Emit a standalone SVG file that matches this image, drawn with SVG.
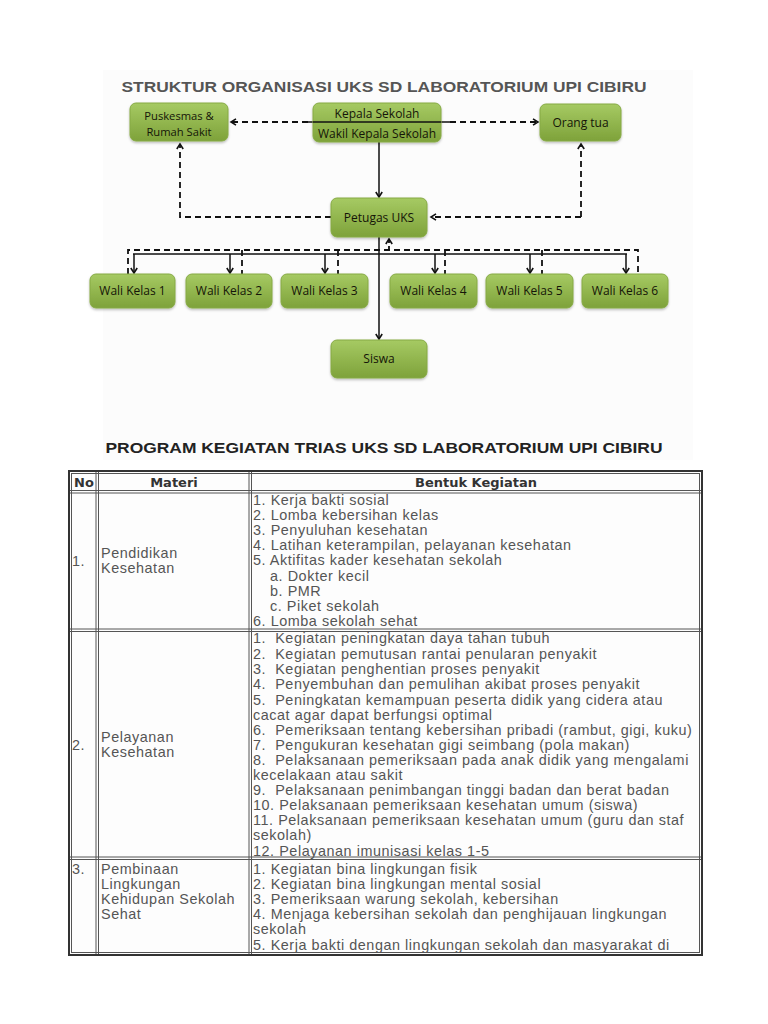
<svg xmlns="http://www.w3.org/2000/svg" width="768" height="1024" viewBox="0 0 768 1024">
<style>
.node rect{fill:url(#g);stroke:#86aa45;stroke-width:1}
.nt{font-family:"Open Sans","Noto Sans",sans-serif;font-size:12px;fill:#151508;text-anchor:middle}
.d{fill:none;stroke:#111;stroke-width:1.8;stroke-dasharray:6,4}
.s{fill:none;stroke:#111;stroke-width:1.5}
.title{font-family:"Liberation Sans",Arial,sans-serif;font-weight:bold;font-size:15.5px}
.th{font-family:"DejaVu Sans",Verdana,sans-serif;font-weight:bold;font-size:13px;fill:#333;text-anchor:middle}
.tb{font-family:"Liberation Sans",Arial,sans-serif;font-size:14.4px;letter-spacing:0.55px;fill:#555}
.bd{stroke:#555;stroke-width:1;fill:none}
</style>
<defs>
<linearGradient id="g" x1="0" y1="0" x2="0" y2="1">
<stop offset="0" stop-color="#a6ca63"/>
<stop offset="1" stop-color="#7ea23a"/>
</linearGradient>
<filter id="sh" x="-10%" y="-10%" width="120%" height="130%">
<feDropShadow dx="0" dy="1.5" stdDeviation="1.2" flood-color="#000" flood-opacity="0.25"/>
</filter>
<marker id="a" markerWidth="8" markerHeight="8" refX="6" refY="4" orient="auto" markerUnits="userSpaceOnUse">
<path d="M1,0.8 L6,4 L1,7.2" fill="none" stroke="#111" stroke-width="1.6"/>
</marker>
</defs>
<rect width="768" height="1024" fill="#ffffff"/>
<rect x="103" y="70" width="590" height="390" fill="#fcfcfc"/>
<text class="title" x="384" y="92" text-anchor="middle" fill="#555" textLength="525" lengthAdjust="spacingAndGlyphs">STRUKTUR ORGANISASI UKS SD LABORATORIUM UPI CIBIRU</text>

<g id="connectors">
<line class="s" x1="308" y1="122" x2="450" y2="122"/>
<line class="d" x1="308" y1="122" x2="231" y2="122" marker-end="url(#a)"/>
<line class="d" x1="450" y1="122" x2="538" y2="122" marker-end="url(#a)"/>
<line class="s" x1="379" y1="142" x2="379" y2="197" marker-end="url(#a)"/>
<path class="d" d="M331,217 H180 V144" marker-end="url(#a)"/>
<path class="d" d="M581,217 V144" marker-end="url(#a)"/>
<path class="d" d="M581,217 H431" marker-end="url(#a)"/>
<line class="s" x1="379" y1="237" x2="379" y2="339" marker-end="url(#a)"/>
<line class="s" x1="133" y1="254" x2="627" y2="254"/>
<line class="s" x1="134" y1="254" x2="134" y2="273" marker-end="url(#a)"/>
<line class="s" x1="230" y1="254" x2="230" y2="273" marker-end="url(#a)"/>
<line class="s" x1="325" y1="254" x2="325" y2="273" marker-end="url(#a)"/>
<line class="s" x1="435" y1="254" x2="435" y2="273" marker-end="url(#a)"/>
<line class="s" x1="530" y1="254" x2="530" y2="273" marker-end="url(#a)"/>
<line class="s" x1="626" y1="254" x2="626" y2="273" marker-end="url(#a)"/>
<path class="d" d="M128,274 V250 H638 V274"/>
<line class="d" x1="242" y1="250" x2="242" y2="274"/>
<line class="d" x1="338" y1="250" x2="338" y2="274"/>
<line class="d" x1="445" y1="250" x2="445" y2="274"/>
<line class="d" x1="542" y1="250" x2="542" y2="274"/>
<line class="d" x1="389" y1="250" x2="389" y2="239" style="stroke-dasharray:4,3" marker-end="url(#a)"/>
</g>

<g id="puskesmas" class="node"><rect x="130" y="103" width="98" height="38" rx="6" filter="url(#sh)"/><text class="nt" x="179" y="120" style="font-size:11.2px">Puskesmas &amp;</text><text class="nt" x="179" y="135.5" style="font-size:11.2px">Rumah Sakit</text></g>
<g id="kepala" class="node"><rect x="313" y="103" width="128" height="39" rx="6" filter="url(#sh)"/><text class="nt" x="377" y="118">Kepala Sekolah</text><text class="nt" x="377" y="138">Wakil Kepala Sekolah</text></g>
<line class="s" x1="313" y1="122" x2="441" y2="122"/>
<g id="orangtua" class="node"><rect x="540" y="104" width="81" height="37" rx="6" filter="url(#sh)"/><text class="nt" x="580.5" y="127">Orang tua</text></g>
<g id="petugas" class="node"><rect x="331" y="198" width="96" height="39" rx="6" filter="url(#sh)"/><text class="nt" x="379" y="222">Petugas UKS</text></g>
<g id="wali1" class="node"><rect x="90" y="274" width="85" height="34" rx="6" filter="url(#sh)"/><text class="nt" x="132.5" y="295">Wali Kelas 1</text></g>
<g id="wali2" class="node"><rect x="186" y="274" width="86" height="34" rx="6" filter="url(#sh)"/><text class="nt" x="229" y="295">Wali Kelas 2</text></g>
<g id="wali3" class="node"><rect x="281" y="274" width="87" height="34" rx="6" filter="url(#sh)"/><text class="nt" x="324.5" y="295">Wali Kelas 3</text></g>
<g id="wali4" class="node"><rect x="390" y="274" width="87" height="34" rx="6" filter="url(#sh)"/><text class="nt" x="433.5" y="295">Wali Kelas 4</text></g>
<g id="wali5" class="node"><rect x="486" y="274" width="87" height="34" rx="6" filter="url(#sh)"/><text class="nt" x="529.5" y="295">Wali Kelas 5</text></g>
<g id="wali6" class="node"><rect x="582" y="274" width="86" height="34" rx="6" filter="url(#sh)"/><text class="nt" x="625" y="295">Wali Kelas 6</text></g>
<g id="siswa" class="node"><rect x="331" y="340" width="96" height="38" rx="6" filter="url(#sh)"/><text class="nt" x="379" y="363">Siswa</text></g>

<text class="title" x="384" y="453" text-anchor="middle" fill="#222" textLength="557" lengthAdjust="spacingAndGlyphs">PROGRAM KEGIATAN TRIAS UKS SD LABORATORIUM UPI CIBIRU</text>

<g id="table">
<rect x="69" y="471" width="633" height="484" fill="#fdfdfd" stroke="#333" stroke-width="2"/>
<rect x="71.5" y="473.5" width="628" height="479" class="bd"/>
<line class="bd" x1="96" y1="472" x2="96" y2="954"/>
<line class="bd" x1="98.5" y1="472" x2="98.5" y2="954"/>
<line class="bd" x1="249" y1="472" x2="249" y2="954"/>
<line class="bd" x1="251.5" y1="472" x2="251.5" y2="954"/>
<line class="bd" x1="70" y1="490.5" x2="701" y2="490.5"/>
<line class="bd" x1="70" y1="493" x2="701" y2="493"/>
<line class="bd" x1="70" y1="629" x2="701" y2="629"/>
<line class="bd" x1="70" y1="631.5" x2="701" y2="631.5"/>
<line class="bd" x1="70" y1="857" x2="701" y2="857"/>
<line class="bd" x1="70" y1="859.5" x2="701" y2="859.5"/>
<text class="th" x="84" y="487">No</text>
<text class="th" x="174" y="487">Materi</text>
<text class="th" x="476" y="487">Bentuk Kegiatan</text>

<text class="tb" x="72" y="566">1.</text>
<text class="tb" x="101" y="558">Pendidikan</text>
<text class="tb" x="101" y="573">Kesehatan</text>
<text class="tb" x="253" y="505">1. Kerja bakti sosial</text>
<text class="tb" x="253" y="520">2. Lomba kebersihan kelas</text>
<text class="tb" x="253" y="535">3. Penyuluhan kesehatan</text>
<text class="tb" x="253" y="550">4. Latihan keterampilan, pelayanan kesehatan</text>
<text class="tb" x="253" y="565">5. Aktifitas kader kesehatan sekolah</text>
<text class="tb" x="270" y="581">a. Dokter kecil</text>
<text class="tb" x="270" y="596">b. PMR</text>
<text class="tb" x="270" y="611">c. Piket sekolah</text>
<text class="tb" x="253" y="626">6. Lomba sekolah sehat</text>

<text class="tb" x="72" y="750">2.</text>
<text class="tb" x="101" y="742">Pelayanan</text>
<text class="tb" x="101" y="757">Kesehatan</text>
<text class="tb" x="253" y="643" xml:space="preserve">1.  Kegiatan peningkatan daya tahan tubuh</text>
<text class="tb" x="253" y="659" xml:space="preserve">2.  Kegiatan pemutusan rantai penularan penyakit</text>
<text class="tb" x="253" y="674" xml:space="preserve">3.  Kegiatan penghentian proses penyakit</text>
<text class="tb" x="253" y="689" xml:space="preserve">4.  Penyembuhan dan pemulihan akibat proses penyakit</text>
<text class="tb" x="253" y="705" xml:space="preserve">5.  Peningkatan kemampuan peserta didik yang cidera atau</text>
<text class="tb" x="253" y="720">cacat agar dapat berfungsi optimal</text>
<text class="tb" x="253" y="735" xml:space="preserve">6.  Pemeriksaan tentang kebersihan pribadi (rambut, gigi, kuku)</text>
<text class="tb" x="253" y="750" xml:space="preserve">7.  Pengukuran kesehatan gigi seimbang (pola makan)</text>
<text class="tb" x="253" y="765" xml:space="preserve">8.  Pelaksanaan pemeriksaan pada anak didik yang mengalami</text>
<text class="tb" x="253" y="780">kecelakaan atau sakit</text>
<text class="tb" x="253" y="795" xml:space="preserve">9.  Pelaksanaan penimbangan tinggi badan dan berat badan</text>
<text class="tb" x="253" y="810">10. Pelaksanaan pemeriksaan kesehatan umum (siswa)</text>
<text class="tb" x="253" y="825">11. Pelaksanaan pemeriksaan kesehatan umum (guru dan staf</text>
<text class="tb" x="253" y="840">sekolah)</text>
<text class="tb" x="253" y="856">12. Pelayanan imunisasi kelas 1-5</text>

<text class="tb" x="72" y="874">3.</text>
<text class="tb" x="101" y="874">Pembinaan</text>
<text class="tb" x="101" y="889">Lingkungan</text>
<text class="tb" x="101" y="904">Kehidupan Sekolah</text>
<text class="tb" x="101" y="919">Sehat</text>
<text class="tb" x="253" y="874">1. Kegiatan bina lingkungan fisik</text>
<text class="tb" x="253" y="889">2. Kegiatan bina lingkungan mental sosial</text>
<text class="tb" x="253" y="904">3. Pemeriksaan warung sekolah, kebersihan</text>
<text class="tb" x="253" y="919">4. Menjaga kebersihan sekolah dan penghijauan lingkungan</text>
<text class="tb" x="253" y="934">sekolah</text>
<text class="tb" x="253" y="950">5. Kerja bakti dengan lingkungan sekolah dan masyarakat di</text>
</g>
</svg>
